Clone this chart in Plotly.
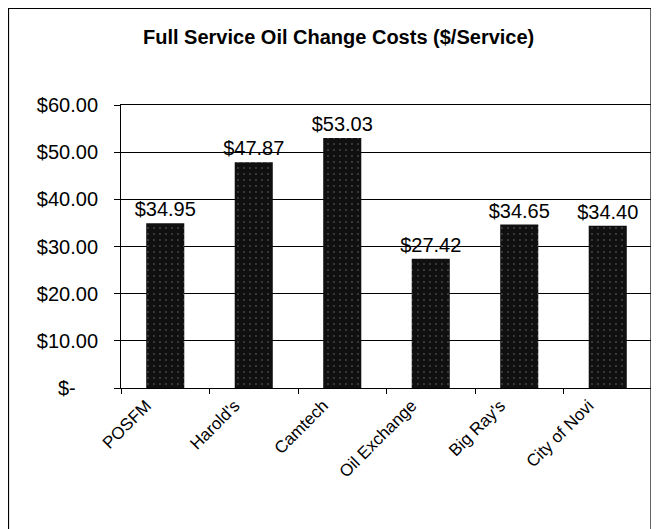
import plotly.graph_objects as go

categories = ["POSFM", "Harold's", "Camtech", "Oil Exchange", "Big Ray's", "City of Novi"]
costs = [34.95, 47.87, 53.03, 27.42, 34.65, 34.40]
y_tick_values = [0, 10, 20, 30, 40, 50, 60]
y_tick_labels = ["$-\u00a0\u00a0\u00a0\u00a0", "$10.00", "$20.00", "$30.00", "$40.00", "$50.00", "$60.00"]
title_text = "Full Service Oil Change Costs ($/Service)"

FONT = "Liberation Sans, Arial, sans-serif"

# the page body has an 8px margin; work in screen pixels and subtract it
OFF = 8
SW, SH = 659, 529
W, H = SW - OFF, SH - OFF
# plot area in screen px
PL, PR, PT, PB = 121, 652, 105, 388
L = PL - OFF
R = SW - PR
T = PT - OFF
B = SH - PB
pw = PR - PL
ph = PB - PT

def sx(px):
    return (px - PL) / pw

def sy(py):
    return (PB - py) / ph

fig = go.Figure()
fig.add_trace(go.Bar(
    x=categories,
    y=costs,
    marker=dict(color="#101010", line=dict(width=0),
                pattern=dict(shape=".", fgcolor="#7a7a7a", bgcolor="#101010",
                             size=6, solidity=0.08)),
    texttemplate="$%{y:.2f}",
    textposition="outside",
    constraintext="none",
    cliponaxis=False,
    textfont=dict(family=FONT, size=20, color="black"),
    hoverinfo="skip",
))

fig.update_layout(
    width=W, height=H,
    margin=dict(l=L, r=R, t=T, b=B, pad=0, autoexpand=False),
    paper_bgcolor="white",
    plot_bgcolor="white",
    showlegend=False,
    bargap=0.57,
    font=dict(family=FONT, size=18, color="black"),
    xaxis=dict(
        type="category",
        tickangle=-45,
        tickson="boundaries",
        ticks="outside",
        ticklen=5,
        tickcolor="black",
        ticklabelshift=-19,
        showline=True,
        linecolor="black",
        linewidth=1,
        mirror=True,
        showgrid=False,
        automargin=False,
        tickfont=dict(family=FONT, size=17, color="black"),
    ),
    yaxis=dict(
        range=[0, 60],
        tickvals=y_tick_values,
        ticktext=y_tick_labels,
        ticks="outside",
        ticklen=6,
        tickcolor="black",
        ticklabelstandoff=12,
        showline=True,
        linecolor="black",
        linewidth=1,
        mirror=True,
        showgrid=True,
        gridcolor="black",
        gridwidth=1,
        zeroline=False,
        automargin=False,
        tickfont=dict(family=FONT, size=20, color="black"),
    ),
    shapes=[dict(
        type="rect", xref="paper", yref="paper",
        x0=sx(8.5), x1=sx(651),
        y0=sy(545), y1=sy(8.5),
        line=dict(color="black", width=1.2),
        fillcolor="rgba(0,0,0,0)",
        layer="below",
    )],
    annotations=[dict(
        text="<b>" + title_text + "</b>",
        xref="paper", yref="paper",
        x=sx(338), y=sy(37),
        xanchor="center", yanchor="middle",
        showarrow=False,
        font=dict(family=FONT, size=20, color="black"),
    )],
)

fig.write_html("out.html")
